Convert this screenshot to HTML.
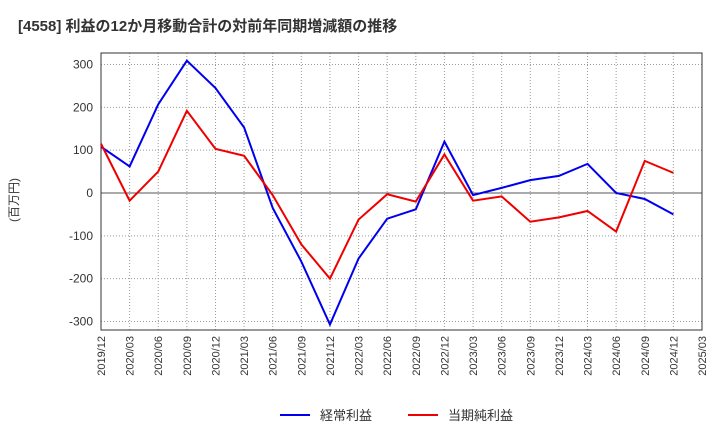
<!DOCTYPE html>
<html><head><meta charset="utf-8"><style>
body{margin:0;background:#fff;font-family:"Liberation Sans","Noto Sans CJK JP",sans-serif;}
</style></head><body>
<svg id="chart" width="720" height="440" xmlns="http://www.w3.org/2000/svg" font-family="Liberation Sans, Noto Sans CJK JP, sans-serif">
<text x="18" y="31" font-size="15" font-weight="bold" fill="#333">[4558]  利益の12か月移動合計の対前年同期増減額の推移</text>
<text transform="translate(18,200) rotate(-90)" text-anchor="middle" font-size="12" fill="#333">(百万円)</text>
<g id="grid"></g><g id="axes"></g><g id="series"></g>
<g>
<line x1="280" y1="415" x2="310" y2="415" stroke="#0000ee" stroke-width="2"/>
<text x="320" y="420" font-size="13" fill="#333">経常利益</text>
<line x1="408" y1="415" x2="438" y2="415" stroke="#ee0000" stroke-width="2"/>
<text x="448" y="420" font-size="13" fill="#333">当期純利益</text>
</g>
</svg>
<script>
const categories=["2019/12","2020/03","2020/06","2020/09","2020/12","2021/03","2021/06","2021/09","2021/12","2022/03","2022/06","2022/09","2022/12","2023/03","2023/06","2023/09","2023/12","2024/03","2024/06","2024/09","2024/12","2025/03"];
const ordinaryProfit=[108,62,207,309,245,153,-35,-160,-307,-153,-60,-38,120,-5,12,30,40,68,0,-14,-50];
const netProfit=[115,-18,50,192,103,87,-5,-120,-200,-62,-3,-20,90,-18,-8,-67,-57,-42,-90,75,47];
const yTicks=[300,200,100,0,-100,-200,-300];
const L=101,R=702,T=53,B=330;
const x=i=>L+(R-L)*i/(categories.length-1);
const y=v=>193-v*0.4283;
const NS="http://www.w3.org/2000/svg";
function mk(tag,attrs,parent){const e=document.createElementNS(NS,tag);for(const k in attrs)e.setAttribute(k,attrs[k]);parent.appendChild(e);return e;}
const grid=document.getElementById('grid'),axes=document.getElementById('axes'),series=document.getElementById('series');
yTicks.forEach(v=>{
 const g=mk('line',{x1:L,x2:R,y1:y(v),y2:y(v),stroke:v===0?'#555':'#999','stroke-dasharray':v===0?'':'1,2','stroke-width':1},grid);
 
 
 const t=mk('text',{x:L-8,y:y(v)+4,'text-anchor':'end','font-size':12,fill:'#333'},axes);
 
 
 t.textContent=v;
});
categories.forEach((c,i)=>{
 if(i>0&&i<categories.length-1){const g=mk('line',{x1:x(i),x2:x(i),y1:T,y2:B,stroke:'#999','stroke-dasharray':'1,2'},grid);
 
 }
 const t=mk('text',{transform:`translate(${x(i)+4},${B+6}) rotate(-90)`,'text-anchor':'end','font-size':11,fill:'#333'},axes);
 
 
 t.textContent=c;
});
const frame=mk('rect',{x:L,y:T,width:R-L,height:B-T,fill:'none',stroke:'#333'},axes);


function line(data,color,name){
 const p=mk('polyline',{points:data.map((v,i)=>x(i)+','+y(v)).join(' '),fill:'none',stroke:color,'stroke-width':2},series);
 
 
}
line(ordinaryProfit,'#0000ee','ordinary-profit-line');
line(netProfit,'#ee0000','net-profit-line');
</script>
</body></html>
